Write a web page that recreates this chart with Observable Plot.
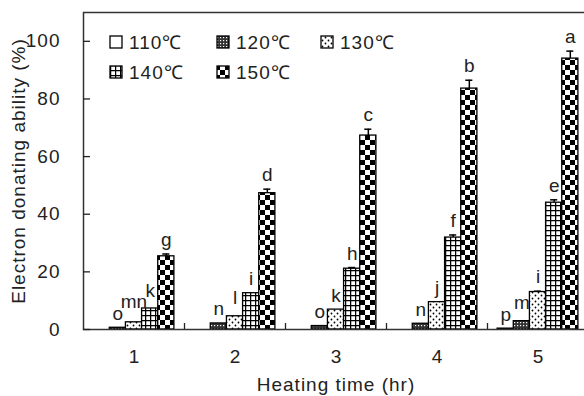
<!DOCTYPE html>
<html><head><meta charset="utf-8">
<script src="https://cdn.jsdelivr.net/npm/d3@7"></script>
<script src="https://cdn.jsdelivr.net/npm/@observablehq/plot@0.6"></script>
<style>
html,body{margin:0;padding:0;background:#fff;}
#chart{width:584px;height:396px;overflow:hidden;}
#chart svg{font-family:"Liberation Sans",Arial,sans-serif;overflow:hidden;}
#chart svg .spaced text, #chart svg text.spaced{letter-spacing:1px;}
</style></head><body><div id="chart"></div>
<script>
const hours = [1, 2, 3, 4, 5];
const temps = ["110℃", "120℃", "130℃", "140℃", "150℃"];
const v110 = [0, 0, 0, 0, 0.3];
const v120 = [0.6, 2.1, 1.2, 2.0, 2.9];
const v130 = [2.5, 4.6, 6.9, 9.5, 13.0];
const v140 = [7.3, 12.6, 21.1, 31.9, 44.0];
const v150 = [25.4, 47.3, 67.3, 83.6, 94.0];
const e110 = [0, 0, 0, 0, 0];
const e120 = [0, 0, 0, 0, 0];
const e130 = [0, 0, 0, 0, 0.3];
const e140 = [0, 0, 0.4, 0.9, 1.0];
const e150 = [0.8, 1.4, 2.2, 2.9, 2.6];
const l110 = ["", "", "", "", "p"];
const l120 = ["o", "n", "o", "n", "m"];
const l130 = ["mn", "l", "k", "j", "i"];
const l140 = ["k", "i", "h", "f", "e"];
const l150 = ["g", "d", "c", "b", "a"];
const yTicks = [0, 20, 40, 60, 80, 100];
const groupEdges = [1.5, 2.5, 3.5, 4.5];
const xLabel = "Heating time (hr)";
const yLabel = "Electron donating ability (%)";
const patternIds = ["p110", "p120", "p130", "p140", "p150"];

const values = [v110, v120, v130, v140, v150];
const errs = [e110, e120, e130, e140, e150];
const labels = [l110, l120, l130, l140, l150];
const barW = 0.16, capW = 0.035, labelClear = 4;

const rows = [];
hours.forEach((h, i) => {
  let prev = -Infinity;
  temps.forEach((t, k) => {
    const top = values[k][i] + errs[k][i];
    const label = labels[k][i];
    let labelY = top;
    if (label) { labelY = Math.max(top, prev + labelClear); prev = labelY; }
    rows.push({hour: h, temp: t, k, center: h + (k - 2) * barW,
      value: values[k][i], err: errs[k][i], label, labelY});
  });
});
const withErr = rows.filter(d => d.err > 0);
const withLabel = rows.filter(d => d.label);

const chart = Plot.plot({
  width: 584, height: 396,
  marginLeft: 83, marginRight: -4, marginTop: 12, marginBottom: 67,
  style: {fontSize: "19px", fontFamily: "'Liberation Sans', Arial, sans-serif", color: "#222"},
  x: {domain: [0.5, 5.5], axis: null},
  y: {domain: [0, 110], axis: null},
  color: {type: "ordinal", domain: temps, range: patternIds.map(id => `url(#${id})`)},
  marks: [
    Plot.rectY(rows, {x1: d => d.center - barW / 2, x2: d => d.center + barW / 2, y1: 0, y2: "value",
      fill: "temp", stroke: "#000", strokeWidth: 1.3}),
    Plot.ruleX(withErr, {x: "center", y1: "value", y2: d => d.value + d.err, stroke: "#000", strokeWidth: 1.5}),
    Plot.ruleY(withErr, {y: d => d.value + d.err, x1: d => d.center - capW, x2: d => d.center + capW, stroke: "#000", strokeWidth: 1.5}),
    Plot.text(withLabel, {x: "center", y: "labelY", text: "label", lineAnchor: "bottom", dy: -8, fontSize: 19, fill: "#222"}),
    Plot.frame({stroke: "#333", strokeWidth: 1.5}),
    Plot.axisY({ticks: yTicks, tickSize: -7, tickPadding: 30, label: null, fontSize: 19, strokeWidth: 1.3, className: "spaced"}),
    Plot.axisX({ticks: hours, tickSize: 0, tickPadding: 20, tickFormat: d => String(d), label: null, fontSize: 19}),
    Plot.axisX({ticks: groupEdges, tickSize: -6, tickFormat: () => "", label: null, strokeWidth: 1.3}),
    Plot.text([yLabel], {frameAnchor: "left", textAnchor: "middle", lineAnchor: "middle", rotate: -90, dx: -65, fontSize: 19, fill: "#222", className: "spaced"}),
    Plot.text([xLabel], {frameAnchor: "bottom", textAnchor: "middle", lineAnchor: "middle", dy: 55, fontSize: 19, fill: "#222", className: "spaced"})
  ]
});

// patterns
const svg = d3.select(chart);
const defs = svg.insert("defs", ":first-child");
const p110 = defs.append("pattern").attr("id", "p110").attr("patternUnits", "userSpaceOnUse").attr("width", 4).attr("height", 4);
p110.append("rect").attr("width", 4).attr("height", 4).attr("fill", "#fff");
const p120 = defs.append("pattern").attr("id", "p120").attr("patternUnits", "userSpaceOnUse").attr("width", 3).attr("height", 3);
p120.append("rect").attr("width", 3).attr("height", 3).attr("fill", "#333");
p120.append("rect").attr("x", 1).attr("y", 1).attr("width", 1.2).attr("height", 1.2).attr("fill", "#fff");
const p130 = defs.append("pattern").attr("id", "p130").attr("patternUnits", "userSpaceOnUse").attr("width", 6).attr("height", 6);
p130.append("rect").attr("width", 6).attr("height", 6).attr("fill", "#fff");
p130.append("circle").attr("cx", 1.5).attr("cy", 1.5).attr("r", 0.9).attr("fill", "#000");
p130.append("circle").attr("cx", 4.5).attr("cy", 4.5).attr("r", 0.9).attr("fill", "#000");
const p140 = defs.append("pattern").attr("id", "p140").attr("patternUnits", "userSpaceOnUse").attr("width", 5).attr("height", 5);
p140.append("rect").attr("width", 5).attr("height", 5).attr("fill", "#fff");
p140.append("path").attr("d", "M0.6,0V5M0,0.6H5").attr("stroke", "#000").attr("stroke-width", 1.3);
const p150 = defs.append("pattern").attr("id", "p150").attr("patternUnits", "userSpaceOnUse").attr("width", 10).attr("height", 10);
p150.append("rect").attr("width", 10).attr("height", 10).attr("fill", "#fff");
p150.append("rect").attr("width", 5).attr("height", 5).attr("fill", "#000");
p150.append("rect").attr("x", 5).attr("y", 5).attr("width", 5).attr("height", 5).attr("fill", "#000");

// legend inside plot area
const legendCols = [110, 217, 321], legendRows = [42, 72];
const lg = svg.append("g").attr("class", "legend spaced").attr("text-anchor", "start");
temps.forEach((t, k) => {
  const cx = legendCols[k % 3], cy = legendRows[Math.floor(k / 3)];
  lg.append("rect").attr("x", cx).attr("y", cy - 6).attr("width", 12).attr("height", 12)
    .attr("fill", `url(#${patternIds[k]})`).attr("stroke", "#000").attr("stroke-width", 1.3);
  lg.append("text").attr("x", cx + 19).attr("y", cy).attr("dy", "0.36em").attr("text-anchor", "start")
    .attr("font-size", 19).attr("fill", "#222").text(t);
});

document.getElementById("chart").append(chart);
</script></body></html>
